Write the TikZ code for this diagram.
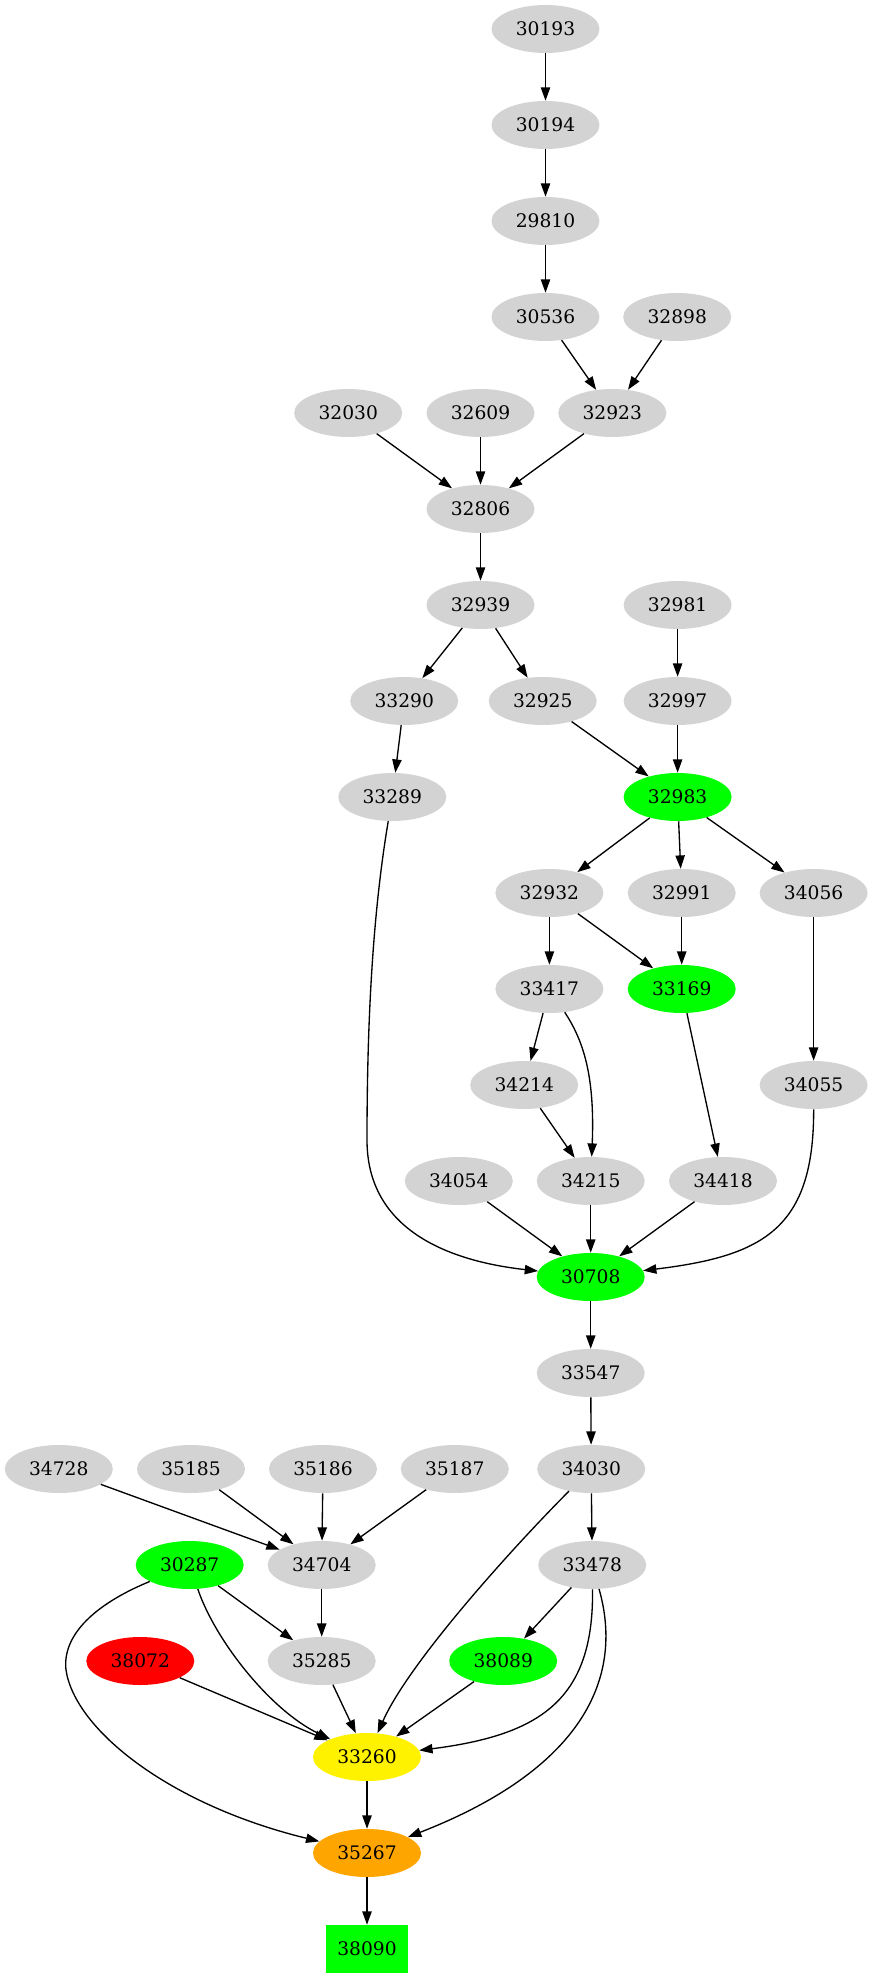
\documentclass[tikz,border=0pt]{standalone}
\usepackage{fontspec}
\setmainfont{DejaVu Serif}
\usetikzlibrary{shapes.geometric,arrows.meta}
\definecolor{lgray}{RGB}{211,211,211}
\definecolor{gvgreen}{RGB}{0,255,0}
\definecolor{gvorange}{RGB}{255,165,0}
\begin{document}
\begin{tikzpicture}[x=0.75pt,y=-0.75pt,
  vtx/.style={ellipse,fill=lgray,minimum width=81pt,minimum height=36pt,inner sep=0pt,font=\fontsize{14}{17}\selectfont},
  vtxgreen/.style={vtx,fill=gvgreen},
  vtxred/.style={vtx,fill=red},
  vtxyellow/.style={vtx,fill=yellow},
  vtxorange/.style={vtx,fill=gvorange},
  vtxbox/.style={rectangle,fill=gvgreen,minimum width=62pt,minimum height=36pt,inner sep=0pt,font=\fontsize{14}{17}\selectfont},
  arr/.style={-{Triangle[length=10pt,width=7pt]},line width=1pt}]
\fill[white] (0,0) rectangle (873,1979);
\useasboundingbox (0,0) rectangle (873,1979);
\node[vtx] (n30193) at (545.5,29) {30193};
\node[vtx] (n30194) at (545.5,125) {30194};
\node[vtx] (n29810) at (545.5,221) {29810};
\node[vtx] (n30536) at (545.5,317) {30536};
\node[vtx] (n32898) at (677.2,317) {32898};
\node[vtx] (n32030) at (348.2,413) {32030};
\node[vtx] (n32609) at (480.5,413) {32609};
\node[vtx] (n32923) at (612.3,413) {32923};
\node[vtx] (n32806) at (480.5,509) {32806};
\node[vtx] (n32939) at (480.5,605) {32939};
\node[vtx] (n32981) at (677.6,605) {32981};
\node[vtx] (n33290) at (404.2,701) {33290};
\node[vtx] (n32925) at (542.7,701) {32925};
\node[vtx] (n32997) at (677.6,701) {32997};
\node[vtx] (n33289) at (392.3,797) {33289};
\node[vtxgreen] (n32983) at (677.6,797) {32983};
\node[vtx] (n32932) at (549.4,893) {32932};
\node[vtx] (n32991) at (681.7,893) {32991};
\node[vtx] (n34056) at (813.6,893) {34056};
\node[vtx] (n33417) at (549.4,989) {33417};
\node[vtxgreen] (n33169) at (681.7,989) {33169};
\node[vtx] (n34214) at (524.2,1085) {34214};
\node[vtx] (n34055) at (813.6,1085) {34055};
\node[vtx] (n34054) at (458.8,1181) {34054};
\node[vtx] (n34215) at (590.7,1181) {34215};
\node[vtx] (n34418) at (723,1181) {34418};
\node[vtxgreen] (n30708) at (590.7,1277) {30708};
\node[vtx] (n33547) at (590.7,1373) {33547};
\node[vtx] (n34728) at (58.8,1469) {34728};
\node[vtx] (n35185) at (191,1469) {35185};
\node[vtx] (n35186) at (323,1469) {35186};
\node[vtx] (n35187) at (454.8,1469) {35187};
\node[vtx] (n34030) at (591.2,1469) {34030};
\node[vtxgreen] (n30287) at (189.7,1565) {30287};
\node[vtx] (n34704) at (321.7,1565) {34704};
\node[vtx] (n33478) at (592.2,1565) {33478};
\node[vtxred] (n38072) at (140.3,1661) {38072};
\node[vtx] (n35285) at (321.7,1661) {35285};
\node[vtxgreen] (n38089) at (503.2,1661) {38089};
\node[vtxyellow] (n33260) at (367,1757) {33260};
\node[vtxorange] (n35267) at (367,1853) {35267};
\node[vtxbox] (n38090) at (367,1949) {38090};
\draw[arr] (n30193) -- (n30194);
\draw[arr] (n30194) -- (n29810);
\draw[arr] (n29810) -- (n30536);
\draw[arr] (n30536) -- (n32923);
\draw[arr] (n32898) -- (n32923);
\draw[arr] (n32030) -- (n32806);
\draw[arr] (n32609) -- (n32806);
\draw[arr] (n32923) -- (n32806);
\draw[arr] (n32806) -- (n32939);
\draw[arr] (n32939) -- (n33290);
\draw[arr] (n32939) -- (n32925);
\draw[arr] (n32981) -- (n32997);
\draw[arr] (n33290) -- (n33289);
\draw[arr] (n32925) -- (n32983);
\draw[arr] (n32997) -- (n32983);
\draw[arr] (n32983) -- (n32932);
\draw[arr] (n32983) -- (n32991);
\draw[arr] (n32983) -- (n34056);
\draw[arr] (n32932) -- (n33417);
\draw[arr] (n32932) -- (n33169);
\draw[arr] (n32991) -- (n33169);
\draw[arr] (n34056) -- (n34055);
\draw[arr] (n33417) -- (n34214);
\draw[arr] (n33417) .. controls (583,1040) and (595,1075) .. (n34215);
\draw[arr] (n34214) -- (n34215);
\draw[arr] (n33169) -- (n34418);
\draw[arr] (n33289) .. controls (375,900) and (367,1000) .. (367,1140) .. controls (367,1225) and (440,1260) .. (n30708);
\draw[arr] (n34054) -- (n30708);
\draw[arr] (n34215) -- (n30708);
\draw[arr] (n34418) -- (n30708);
\draw[arr] (n34055) .. controls (814,1229) and (763,1256) .. (n30708);
\draw[arr] (n30708) -- (n33547);
\draw[arr] (n33547) -- (n34030);
\draw[arr] (n34728) -- (n34704);
\draw[arr] (n35185) -- (n34704);
\draw[arr] (n35186) -- (n34704);
\draw[arr] (n35187) -- (n34704);
\draw[arr] (n34030) -- (n33478);
\draw[arr] (n34030) .. controls (520,1540) and (410,1660) .. (n33260);
\draw[arr] (n30287) -- (n35285);
\draw[arr] (n30287) .. controls (215,1640) and (270,1710) .. (n33260);
\draw[arr] (n30287) .. controls (95,1604) and (62,1635) .. (66,1670) .. controls (75,1730) and (170,1805) .. (n35267);
\draw[arr] (n34704) -- (n35285);
\draw[arr] (n33478) -- (n38089);
\draw[arr] (n33478) .. controls (594,1700) and (540,1735) .. (n33260);
\draw[arr] (n33478) .. controls (625,1680) and (580,1770) .. (n35267);
\draw[arr] (n38072) -- (n33260);
\draw[arr] (n35285) -- (n33260);
\draw[arr] (n38089) -- (n33260);
\draw[arr] (n33260) -- (n35267);
\draw[arr] (n35267) -- (n38090);
\end{tikzpicture}
\end{document}
